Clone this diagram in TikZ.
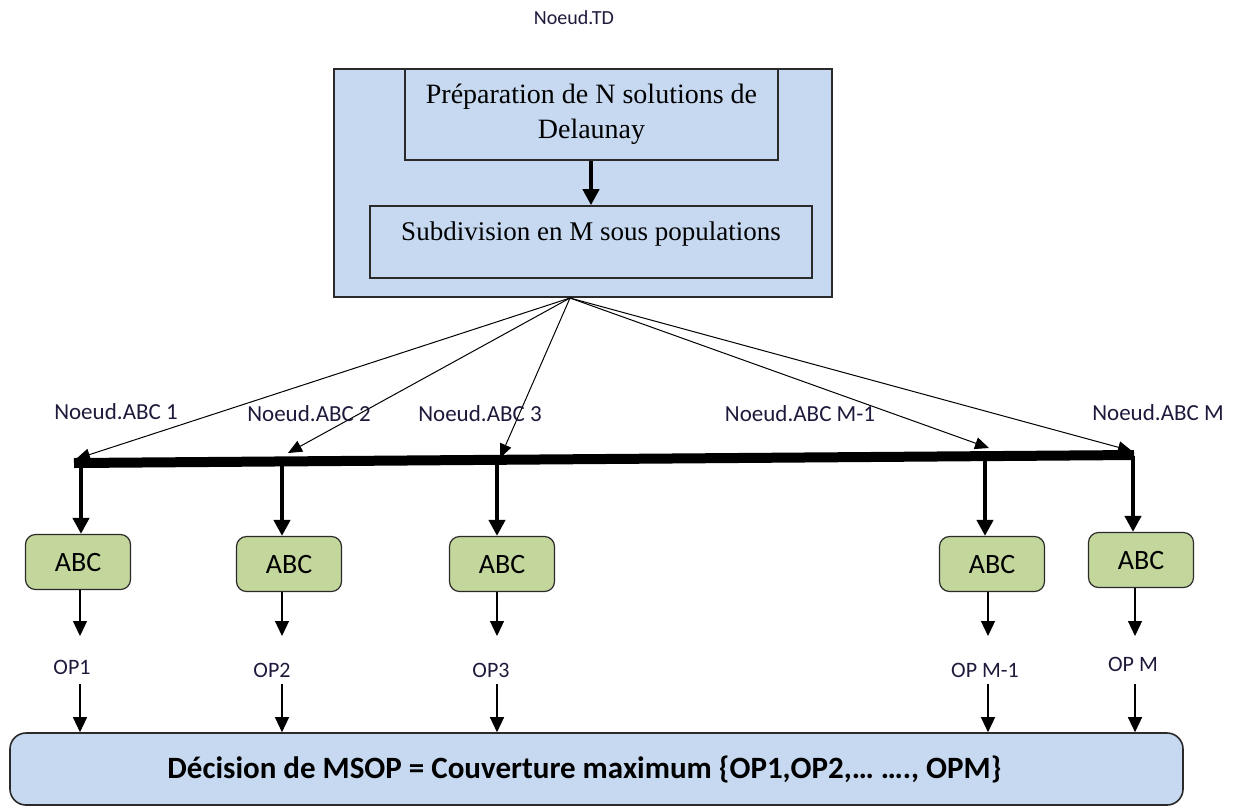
\documentclass[tikz,border=0pt]{standalone}
\usepackage{fontspec}
\setmainfont{Liberation Serif}
\newfontfamily\calib{Carlito}
\usetikzlibrary{arrows.meta}
\definecolor{boxblue}{HTML}{C6D9F1}
\definecolor{boxgreen}{HTML}{C3D69B}
\definecolor{edge}{HTML}{2A2A2A}
\definecolor{lbl}{HTML}{1E1A3C}
\begin{document}
\begin{tikzpicture}[x=0.5pt,y=-0.5pt,
  bluebox/.style={draw=edge, line width=0.8pt, fill=boxblue, inner sep=0pt},
  innerbox/.style={draw=edge, line width=0.8pt, fill=boxblue, inner sep=0pt, align=center, font=\fontsize{14}{17.5}\selectfont},
  abcbox/.style={draw=edge, line width=0.6pt, fill=boxgreen, rounded corners=5pt, minimum width=52.5pt, minimum height=27.5pt, inner sep=0pt, font=\calib\fontsize{14}{16}\selectfont},
  lab/.style={text=lbl, font=\calib\fontsize{11.5}{13}\selectfont, inner sep=1pt},
  tdlab/.style={text=lbl, font=\calib\fontsize{10}{12}\selectfont, inner sep=1pt},
  oplab/.style={text=lbl, font=\calib\fontsize{11}{13}\selectfont, inner sep=1pt},
  thin/.style={line width=0.6pt, -{Triangle[length=7.5pt,width=7pt]}},
  fanarrow/.style={line width=0.5pt, -{Triangle[length=7pt,width=6pt]}},
  thick/.style={line width=2pt, -{Triangle[length=8pt,width=8pt]}}]
\useasboundingbox (0,0) rectangle (1245,810);
\fill[white] (0,0) rectangle (1245,810);

\node[tdlab] (td) at (574,18) {Noeud.TD};

\node[bluebox, minimum width=249pt, minimum height=114pt] (outer) at (583,183) {};
\node[innerbox, minimum width=186.5pt, minimum height=45.5pt] (prep) at (591.5,114.5) {Préparation de N solutions de\\Delaunay};
\node[innerbox, minimum width=221pt, minimum height=36pt] (sub) at (591,242) {};
\node[font=\fontsize{13.5}{16}\selectfont, inner sep=0pt] (subtxt) at (591,234) {Subdivision en M sous populations};
\draw[thick] (prep.south -| 591,0) -- (sub.north -| 591,0);

\coordinate (fan) at (570,298);
\coordinate (bl) at (74,463);
\coordinate (br) at (1134,455);
\draw[line width=5pt] (bl) -- (br);

\coordinate (t1) at (76,459);
\coordinate (t2) at (288,453);
\coordinate (t3) at (500,458);
\coordinate (t4) at (989,448);
\coordinate (t5) at (1132,451);
\foreach \t in {t1,t2,t3,t4,t5} \draw[fanarrow] (fan) -- (\t);

\node[lab] (n1) at (116,412) {Noeud.ABC 1};
\node[lab] (n2) at (309,414) {Noeud.ABC 2};
\node[lab] (n3) at (480,414) {Noeud.ABC 3};
\node[lab] (n4) at (800,414) {Noeud.ABC M-1};
\node[lab] (n5) at (1158,413) {Noeud.ABC M};

\node[abcbox] (a1) at (78,562) {ABC};
\node[abcbox] (a2) at (289,564) {ABC};
\node[abcbox] (a3) at (502,564) {ABC};
\node[abcbox] (a4) at (992,564) {ABC};
\node[abcbox] (a5) at (1141,560) {ABC};

\coordinate (b1) at (81,464);
\coordinate (b2) at (282,462);
\coordinate (b3) at (497,460);
\coordinate (b4) at (985,457);
\coordinate (b5) at (1133,456);
\draw[thick] (b1) -- (b1 |- a1.north);
\draw[thick] (b2) -- (b2 |- a2.north);
\draw[thick] (b3) -- (b3 |- a3.north);
\draw[thick] (b4) -- (b4 |- a4.north);
\draw[thick] (b5) -- (b5 |- a5.north);

\node[oplab] (o1) at (72,667) {OP1};
\node[oplab] (o2) at (272,670) {OP2};
\node[oplab] (o3) at (491,670) {OP3};
\node[oplab] (o4) at (985,670) {OP M-1};
\node[oplab] (o5) at (1133,664) {OP M};

\node[bluebox, rounded corners=8pt, minimum width=586.5pt, minimum height=36pt, font=\calib\bfseries\fontsize{15.5}{18}\selectfont] (dec) at (596.5,769) {Décision de MSOP = Couverture maximum \{OP1,OP2,… …., OPM\}\hspace*{12pt}};

\foreach \x/\a in {80/a1,282/a2,497/a3,988/a4,1135/a5} {
  \draw[thin] (\x,0 |- \a.south) -- (\x,636);
  \draw[thin] (\x,684) -- (\x,0 |- dec.north);
}
\end{tikzpicture}
\end{document}
